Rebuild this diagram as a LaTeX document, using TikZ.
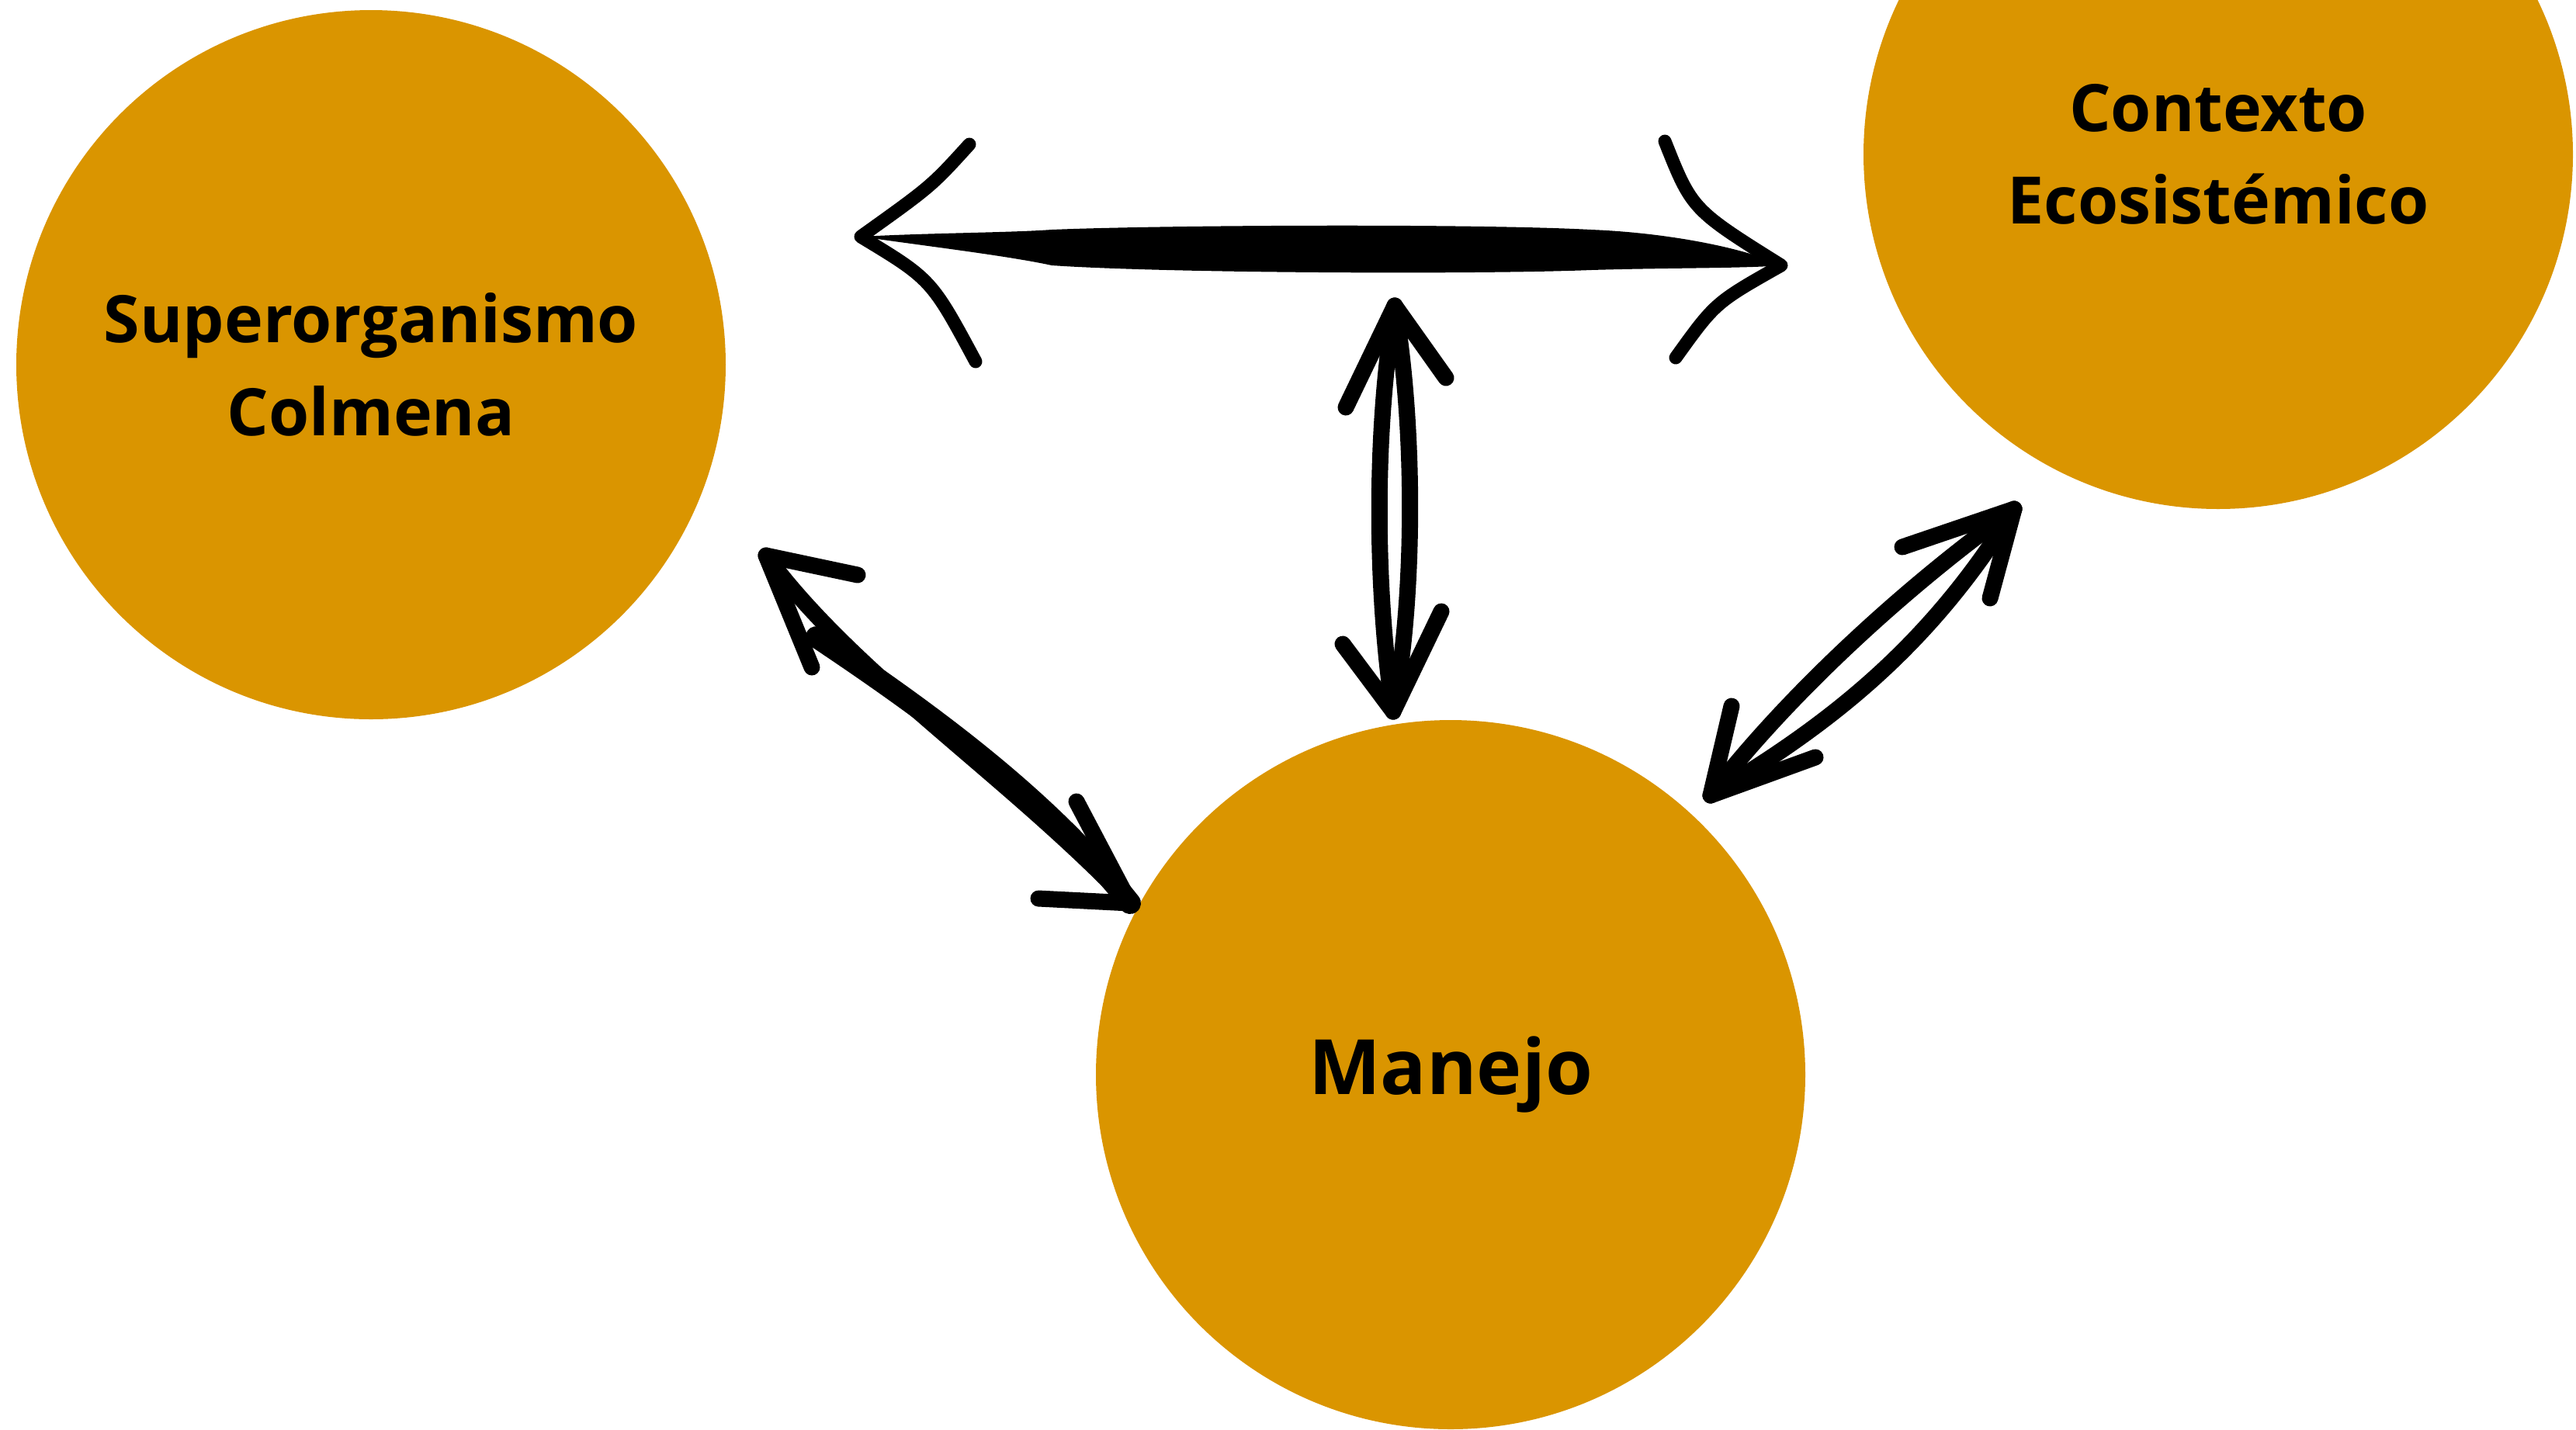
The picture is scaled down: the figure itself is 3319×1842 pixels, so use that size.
\documentclass[tikz,border=0pt]{standalone}
\usepackage{fontspec}
\setmainfont{Open Sans}
\definecolor{honey}{RGB}{218,149,0}
\begin{document}
\begin{tikzpicture}[x=0.1mm,y=-0.1mm]
  \tikzstyle{hive}=[circle,fill=honey,minimum size=91.4mm,inner sep=0pt,align=center,
    font=\bfseries\fontsize{24}{34}\selectfont]
  \tikzstyle{brush}=[line width=2.1mm,line cap=round,line join=round]
  \tikzstyle{barb}=[line width=1.7mm,line cap=round,line join=round]
  \useasboundingbox (0,0) rectangle (3319,1842);
  \node[hive] (colmena) at (478,470) {Superorganismo\\Colmena};
  \node[hive] (contexto) at (2858,199) {Contexto\\Ecosistémico};
  \node[hive,font=\bfseries\fontsize{28}{34}\selectfont] (manejo) at (1869,1385) {Manejo};
  \coordinate (hl) at (1109,305);
  \coordinate (hr) at (2295,342);
  \fill (hl) .. controls (1200,300) and (1300,300) .. (1355,296)
    .. controls (1500,290) and (1900,288) .. (2050,296)
    .. controls (2150,300) and (2250,320) .. (hr)
    .. controls (2250,346) and (2150,345) .. (2050,348)
    .. controls (1900,354) and (1500,352) .. (1355,342)
    .. controls (1300,330) and (1200,318) .. (hl) -- cycle;
  \draw[barb] (1249,186) .. controls (1200,240) .. (hl) .. controls (1200,360) .. (1257,466);
  \draw[barb] (2145,182) .. controls (2180,270) .. (hr) .. controls (2210,390) .. (2159,461);
  \coordinate (vt) at (1797,394);
  \coordinate (vb) at (1795,917);
  \draw[brush] (vt) .. controls (1770,560) and (1772,760) .. (vb);
  \draw[brush] (vt) .. controls (1825,560) and (1822,780) .. (vb);
  \draw[brush] (1734,525) -- (vt) -- (1863,487);
  \draw[brush] (1730,830) -- (vb) -- (1857,788);
  \coordinate (dt) at (987,716);
  \coordinate (db) at (1456,1164);
  \draw[brush] (dt) .. controls (1100,870) and (1300,1000) .. (db);
  \draw[brush,line width=2.8mm] (1052,821) .. controls (1200,920) and (1350,1030) .. (db);
  \draw[brush] (1105,741) -- (dt) -- (1046,860);
  \draw[brush] (1387,1033) -- (db) -- (1338,1158);
  \coordinate (rb) at (2204,1025);
  \coordinate (rt) at (2595,656);
  \draw[brush] (rb) .. controls (2300,900) and (2450,760) .. (rt);
  \draw[brush] (rb) .. controls (2355,935) and (2485,835) .. (rt);
  \draw[brush] (2451,705) -- (rt) -- (2564,771);
  \draw[brush] (2231,910) -- (rb) -- (2339,976);
\end{tikzpicture}
\end{document}
